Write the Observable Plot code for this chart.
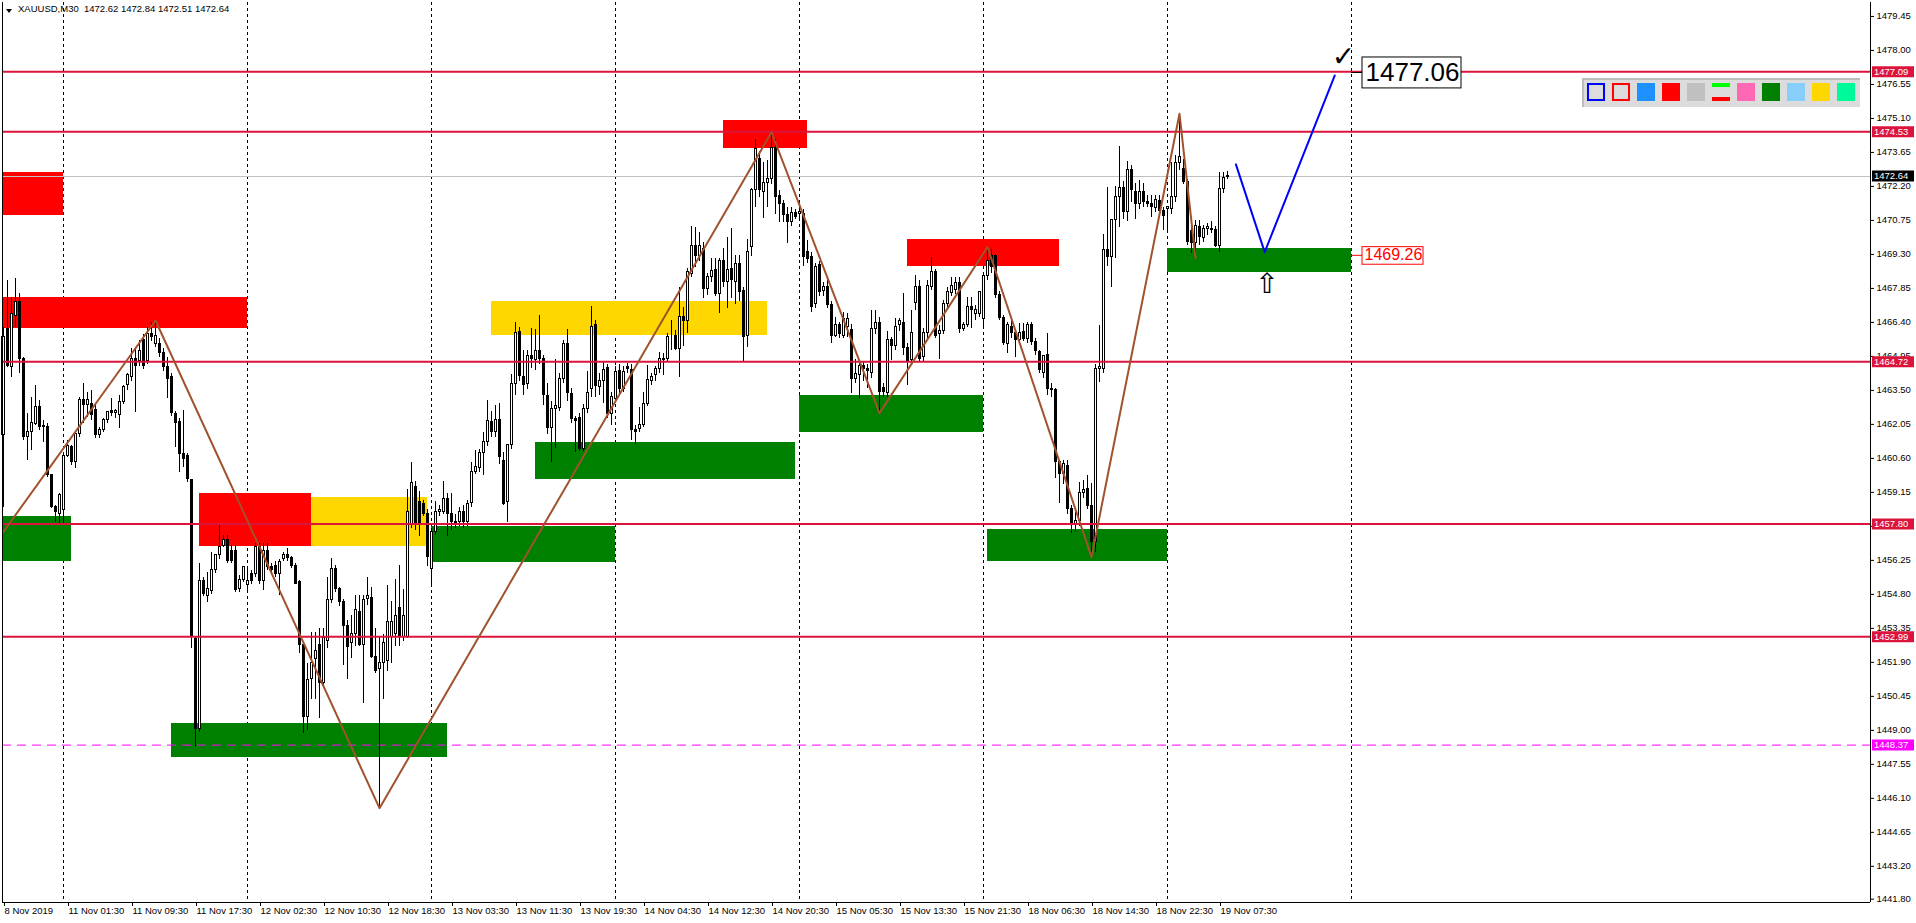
<!DOCTYPE html>
<html><head><meta charset="utf-8">
<script src="https://cdn.jsdelivr.net/npm/d3@7"></script>
<script src="https://cdn.jsdelivr.net/npm/@observablehq/plot@0.6"></script>
<style>
html,body{margin:0;padding:0;background:#fff;overflow:hidden;}
#wrap{position:relative;width:1916px;height:923px;}
#wrap svg{position:absolute;left:0;top:0;}
#hdr{position:absolute;left:18px;top:3px;font:9.5px "Liberation Sans",sans-serif;color:#000;white-space:pre;}
#tri{position:absolute;left:6px;top:9px;width:0;height:0;border-left:3px solid transparent;border-right:3px solid transparent;border-top:4px solid #000;}
#tb{position:absolute;left:1582px;top:78px;width:276px;height:27px;background:#dcdcdc;border-top:2px solid #bdbdbd;border-left:2px solid #bdbdbd;}
#tb div{position:absolute;top:3px;width:18px;height:18px;box-sizing:border-box;}
</style></head><body><div id="wrap"><div id="tb"></div></div>
<script>
// ---- candle data (XAUUSD M30), bar index 0 = 8 Nov 16:30
const openP = [1461.58,1466.13,1464.49,1466.69,1467.26,1464.85,1461.50,1461.72,1462.07,1462.78,1461.97,1461.93,1459.87,1458.52,1458.24,1458.38,1460.72,1461.08,1460.44,1461.62,1463.10,1462.86,1462.90,1462.68,1461.58,1461.82,1462.24,1462.60,1462.54,1462.43,1462.99,1463.71,1464.06,1464.82,1464.77,1465.63,1464.77,1465.91,1465.48,1465.48,1465.09,1464.49,1464.09,1462.50,1462.17,1460.79,1460.72,1459.66,1452.90,1449.06,1455.39,1454.75,1454.96,1455.82,1456.46,1456.88,1457.10,1456.67,1456.67,1455.04,1455.42,1455.22,1455.68,1455.68,1456.81,1455.39,1456.67,1455.96,1456.03,1455.68,1456.32,1456.46,1456.34,1456.03,1455.32,1452.62,1449.56,1451.18,1452.05,1452.66,1451.00,1452.83,1454.57,1455.88,1455.01,1454.49,1453.44,1452.74,1453.09,1454.05,1452.66,1454.62,1454.66,1452.13,1451.61,1451.87,1451.96,1453.00,1453.09,1454.23,1453.00,1453.00,1457.80,1459.40,1458.76,1458.67,1458.23,1455.88,1457.45,1458.32,1458.32,1458.88,1458.23,1457.88,1457.88,1458.32,1457.88,1458.71,1460.03,1460.20,1460.85,1461.28,1462.15,1461.72,1462.24,1460.50,1458.76,1461.16,1463.76,1465.99,1464.07,1463.76,1464.98,1464.80,1465.20,1464.85,1463.24,1461.89,1462.71,1462.76,1463.98,1465.47,1463.34,1462.28,1462.33,1461.02,1462.71,1463.58,1466.30,1463.64,1463.90,1464.45,1462.50,1463.14,1464.32,1463.57,1464.50,1464.38,1461.82,1461.86,1462.04,1462.90,1463.92,1464.14,1464.42,1464.85,1464.85,1465.84,1465.80,1465.27,1466.62,1466.45,1468.47,1469.68,1469.25,1469.54,1467.83,1468.33,1468.64,1467.62,1469.04,1468.12,1468.68,1468.12,1468.87,1467.72,1465.80,1469.61,1472.03,1473.38,1471.95,1472.34,1472.52,1473.85,1471.81,1471.43,1470.96,1470.67,1471.06,1471.03,1471.03,1469.40,1469.18,1467.19,1468.83,1467.73,1467.90,1467.16,1465.84,1466.27,1465.84,1466.20,1466.08,1464.00,1464.14,1464.56,1464.42,1464.25,1466.13,1466.37,1463.60,1463.38,1465.66,1465.41,1466.27,1466.37,1465.31,1464.80,1467.22,1467.90,1464.92,1465.94,1467.90,1468.54,1465.91,1466.05,1467.19,1467.65,1467.79,1468.10,1466.13,1466.31,1467.05,1466.76,1466.76,1466.55,1468.40,1469.25,1469.25,1467.55,1466.59,1465.48,1466.20,1465.94,1465.66,1465.98,1465.70,1466.31,1465.56,1465.13,1464.23,1464.99,1463.57,1463.50,1460.44,1459.94,1460.26,1458.45,1457.74,1457.95,1459.12,1459.30,1458.59,1457.03,1464.42,1464.42,1469.50,1469.18,1470.75,1471.77,1472.14,1471.10,1472.91,1471.98,1471.43,1471.98,1471.53,1471.46,1471.29,1471.57,1471.17,1471.25,1471.25,1471.74,1473.19,1472.95,1472.38,1470.29,1469.78,1470.46,1470.00,1470.39,1470.35,1470.35,1469.68,1472.10,1472.62];
const highP = [1466.20,1468.19,1467.48,1468.26,1467.62,1464.90,1462.50,1463.21,1463.71,1463.07,1462.21,1462.07,1459.90,1458.60,1459.10,1460.80,1461.36,1461.15,1461.70,1463.20,1463.78,1463.42,1463.50,1462.90,1461.90,1462.30,1462.60,1463.14,1462.70,1463.28,1463.70,1464.20,1465.27,1465.34,1465.63,1465.90,1466.20,1466.40,1466.48,1465.70,1465.30,1464.92,1464.20,1462.60,1462.30,1462.64,1460.80,1459.70,1453.00,1456.10,1455.50,1455.75,1456.60,1456.50,1457.74,1457.30,1457.31,1456.90,1456.90,1455.60,1456.00,1455.96,1455.80,1456.95,1456.95,1456.95,1456.95,1456.10,1456.20,1456.30,1456.60,1456.74,1456.40,1456.10,1455.40,1452.70,1451.84,1453.18,1453.18,1453.35,1453.35,1455.53,1456.32,1456.05,1455.10,1454.60,1453.70,1453.88,1454.75,1454.75,1454.75,1455.53,1455.10,1453.35,1453.00,1453.09,1455.18,1454.49,1455.44,1456.05,1455.01,1459.28,1460.41,1459.60,1459.19,1458.80,1458.40,1457.60,1458.76,1458.60,1459.63,1459.10,1459.10,1458.20,1458.50,1458.58,1458.80,1460.41,1460.93,1461.00,1461.72,1463.06,1462.59,1462.85,1462.94,1460.85,1461.20,1464.16,1466.39,1466.20,1465.20,1465.20,1466.16,1466.08,1466.68,1465.00,1463.81,1463.03,1464.80,1464.20,1465.64,1466.08,1463.60,1462.40,1462.50,1462.90,1464.30,1467.09,1466.50,1464.20,1464.70,1464.60,1463.40,1464.50,1464.60,1464.50,1464.64,1464.60,1462.00,1462.78,1463.43,1464.56,1464.20,1464.50,1465.13,1465.06,1465.91,1466.48,1466.05,1467.90,1467.05,1468.68,1470.49,1470.46,1470.25,1469.80,1468.50,1469.11,1469.11,1469.11,1469.54,1470.03,1470.39,1469.25,1469.25,1467.90,1469.92,1472.10,1474.19,1473.70,1473.23,1473.30,1474.51,1474.19,1472.03,1471.60,1471.32,1471.32,1471.20,1471.60,1471.20,1469.89,1469.40,1468.90,1469.00,1468.10,1468.26,1467.30,1466.62,1466.40,1466.84,1466.77,1466.30,1464.80,1464.77,1464.70,1464.60,1466.91,1466.91,1466.60,1463.80,1466.00,1465.74,1466.55,1466.55,1467.65,1465.50,1466.91,1468.40,1468.19,1466.12,1468.19,1469.18,1468.64,1466.27,1467.33,1467.90,1468.33,1468.33,1468.30,1466.40,1467.48,1467.48,1467.10,1467.73,1468.40,1469.61,1469.50,1469.30,1467.70,1466.70,1466.40,1466.48,1466.10,1466.34,1466.35,1466.40,1466.40,1465.70,1465.20,1465.00,1465.91,1463.80,1463.60,1460.50,1460.50,1460.50,1458.60,1458.30,1459.58,1459.66,1459.87,1459.51,1464.60,1466.27,1470.15,1472.17,1470.80,1472.20,1473.90,1472.40,1473.28,1473.10,1472.31,1472.45,1472.31,1471.80,1471.81,1471.81,1471.80,1471.30,1471.35,1473.23,1473.52,1475.30,1473.33,1472.50,1470.50,1470.75,1470.75,1470.53,1470.60,1470.70,1470.50,1472.81,1472.81,1472.84];
const lowP = [1458.52,1464.49,1464.06,1466.20,1464.21,1461.36,1460.51,1460.94,1462.00,1461.79,1461.29,1459.80,1458.45,1457.88,1457.81,1457.81,1460.65,1460.30,1460.15,1461.50,1462.07,1462.36,1462.20,1461.43,1461.43,1461.70,1462.10,1462.40,1462.30,1461.86,1462.90,1463.50,1463.90,1462.57,1464.50,1464.40,1464.60,1465.60,1465.34,1464.90,1464.30,1463.14,1462.40,1461.08,1460.01,1460.23,1459.59,1452.48,1448.28,1448.92,1454.70,1454.47,1454.80,1455.70,1456.30,1456.80,1456.10,1456.10,1454.90,1454.90,1455.30,1454.82,1455.20,1455.50,1455.20,1454.96,1455.80,1455.70,1455.50,1454.75,1456.20,1456.20,1455.90,1455.20,1452.26,1448.85,1449.00,1450.30,1450.30,1449.52,1450.90,1452.48,1454.40,1454.90,1454.30,1451.78,1451.18,1452.05,1452.57,1452.57,1450.13,1454.31,1452.05,1451.44,1445.68,1450.30,1451.52,1451.87,1452.57,1452.57,1452.80,1452.90,1457.60,1457.54,1457.28,1458.10,1455.97,1455.18,1457.30,1458.10,1458.20,1457.28,1457.54,1457.60,1457.70,1457.62,1457.70,1458.50,1459.90,1460.00,1459.89,1461.10,1461.50,1461.50,1460.32,1458.58,1457.88,1461.00,1463.29,1463.90,1463.29,1463.55,1464.42,1464.33,1464.60,1462.85,1461.63,1460.41,1461.02,1462.60,1463.80,1463.03,1462.10,1460.85,1460.90,1460.90,1462.50,1463.20,1463.20,1463.30,1462.94,1462.30,1462.00,1463.00,1463.30,1463.40,1464.20,1461.36,1461.19,1461.72,1461.90,1462.80,1463.70,1463.90,1464.20,1464.14,1464.70,1465.20,1465.20,1464.06,1465.37,1465.91,1468.30,1468.76,1469.00,1467.41,1467.55,1468.10,1467.50,1466.77,1467.90,1466.98,1467.40,1467.16,1467.30,1464.75,1465.31,1469.21,1471.29,1471.74,1470.82,1471.29,1472.30,1471.00,1470.67,1470.67,1469.78,1470.50,1470.80,1470.75,1468.80,1468.90,1466.84,1467.00,1467.50,1467.50,1467.00,1465.52,1465.77,1465.70,1465.70,1465.77,1463.35,1463.80,1463.14,1463.90,1463.60,1464.00,1465.90,1462.53,1463.20,1463.20,1464.77,1465.20,1466.00,1465.00,1463.71,1464.60,1466.90,1464.73,1464.70,1465.70,1467.76,1465.70,1464.80,1465.90,1467.00,1467.50,1467.60,1465.91,1466.00,1466.20,1466.12,1466.50,1466.60,1466.12,1468.20,1468.50,1467.40,1466.50,1465.41,1465.06,1465.70,1464.89,1465.50,1465.60,1465.50,1465.40,1465.00,1464.20,1464.00,1463.30,1463.20,1459.73,1458.66,1459.50,1458.20,1457.38,1457.50,1457.70,1458.90,1458.40,1456.39,1456.60,1463.85,1464.20,1468.80,1467.87,1469.11,1470.46,1470.80,1470.70,1471.50,1470.78,1471.20,1471.30,1471.30,1470.86,1471.10,1470.90,1470.32,1470.25,1471.00,1471.50,1472.90,1472.30,1469.70,1469.33,1469.20,1469.70,1469.80,1470.10,1470.20,1469.61,1469.40,1471.90,1472.51];
const closeP = [1465.77,1464.56,1466.77,1467.26,1464.85,1461.50,1461.72,1462.12,1462.78,1461.93,1461.93,1459.87,1458.52,1458.31,1459.04,1460.72,1461.11,1460.44,1461.65,1463.10,1462.86,1463.07,1462.43,1461.58,1461.82,1462.24,1462.57,1462.54,1462.60,1462.99,1463.64,1464.16,1464.82,1464.52,1465.20,1464.56,1465.91,1465.77,1465.80,1465.09,1464.49,1463.99,1462.53,1462.10,1460.79,1460.58,1459.73,1452.98,1449.06,1455.39,1454.82,1455.04,1455.82,1456.46,1456.84,1457.10,1456.24,1456.24,1454.97,1455.42,1455.96,1455.39,1455.39,1456.81,1455.39,1456.67,1455.96,1455.82,1455.68,1456.17,1456.46,1456.34,1456.03,1455.25,1452.62,1449.56,1451.13,1451.87,1452.39,1451.00,1452.92,1454.57,1455.88,1455.01,1454.49,1453.44,1452.57,1453.12,1454.14,1452.66,1454.57,1454.75,1452.13,1451.52,1451.87,1452.74,1453.61,1453.61,1453.88,1453.00,1453.88,1458.32,1459.54,1457.80,1457.80,1458.23,1456.40,1457.45,1458.32,1458.40,1458.88,1458.23,1457.88,1457.80,1458.32,1457.88,1458.67,1460.03,1460.24,1460.85,1461.28,1462.19,1461.72,1462.24,1460.67,1458.67,1461.16,1463.76,1465.95,1464.11,1463.72,1464.98,1464.85,1465.20,1464.85,1463.29,1461.89,1462.71,1462.85,1463.98,1465.47,1463.41,1462.28,1462.19,1461.02,1462.71,1463.41,1466.20,1463.69,1463.90,1464.38,1462.50,1463.21,1464.28,1463.57,1464.28,1464.40,1461.79,1461.72,1462.04,1462.93,1463.95,1464.09,1464.42,1464.85,1464.80,1465.77,1465.84,1465.27,1466.62,1466.45,1468.54,1469.68,1469.25,1469.68,1467.83,1468.33,1468.59,1467.62,1469.04,1468.12,1468.64,1468.19,1468.87,1467.69,1465.77,1469.40,1472.03,1473.80,1472.03,1472.34,1472.52,1473.85,1471.74,1471.43,1470.96,1470.67,1471.06,1470.89,1471.10,1469.21,1469.11,1467.05,1468.76,1467.69,1467.93,1467.16,1465.84,1466.27,1465.91,1466.55,1466.55,1463.99,1464.18,1464.56,1464.42,1464.32,1466.13,1466.37,1463.42,1463.42,1465.63,1465.41,1466.20,1466.48,1465.31,1464.77,1465.94,1467.90,1464.85,1465.94,1467.97,1468.54,1465.84,1466.05,1467.19,1467.69,1467.97,1468.10,1466.13,1466.31,1467.05,1466.91,1466.91,1467.69,1468.40,1469.04,1468.76,1467.55,1466.59,1465.52,1466.27,1465.94,1465.63,1465.94,1465.70,1466.31,1465.56,1465.17,1464.35,1464.95,1463.57,1463.50,1460.44,1459.94,1460.37,1458.45,1457.74,1457.95,1459.12,1459.26,1458.55,1457.03,1464.42,1464.49,1469.50,1469.18,1470.75,1471.77,1472.14,1471.10,1472.91,1472.03,1471.43,1471.98,1471.53,1471.46,1471.32,1471.60,1471.17,1470.92,1471.32,1471.74,1473.19,1473.45,1472.38,1469.82,1469.78,1470.53,1470.04,1470.39,1470.46,1470.39,1469.68,1472.10,1472.56,1472.64];

// ---- axes
const timeLabels = ["8 Nov 2019","11 Nov 01:30","11 Nov 09:30","11 Nov 17:30","12 Nov 02:30","12 Nov 10:30","12 Nov 18:30","13 Nov 03:30","13 Nov 11:30","13 Nov 19:30","14 Nov 04:30","14 Nov 12:30","14 Nov 20:30","15 Nov 05:30","15 Nov 13:30","15 Nov 21:30","18 Nov 06:30","18 Nov 14:30","18 Nov 22:30","19 Nov 07:30"];
const tickBars = [0,16,32,48,64,80,96,112,128,144,160,176,192,208,224,240,256,272,288,304];
const priceTicks = [1441.80,1443.20,1444.65,1446.10,1447.55,1449.00,1450.45,1451.90,1453.35,1454.80,1456.25,1457.70,1459.15,1460.60,1462.05,1463.50,1464.95,1466.40,1467.85,1469.30,1470.75,1472.20,1473.65,1475.10,1476.55,1478.00,1479.45];
const dayStarts = [15,61,107,153,199,245,291,337];

// ---- horizontal levels
const levelPrices = [1477.09,1474.53,1464.72,1457.80,1452.99];
const dashedLevel = [1448.37];
const bidPrice = [1472.64];
const tagPrices = [1477.09,1474.53,1472.64,1464.72,1457.80,1452.99,1448.37];
const tagColors = ["#dc143c","#dc143c","#000000","#dc143c","#dc143c","#dc143c","#ff00ff"];

// ---- zones (bar from, bar to, price low, price high)
const zoneStart = [-2,-2,-2,49,77,42,107,122,133,180,199,226,246,291];
const zoneEnd   = [15,61,17,77,106,111,153,191,198,201,245,264,291,337];
const zoneLow   = [1470.96,1466.15,1456.22,1456.86,1456.84,1447.83,1456.14,1465.83,1459.71,1473.83,1461.72,1468.80,1456.22,1468.54];
const zoneHigh  = [1472.79,1467.45,1458.12,1459.10,1458.95,1449.29,1457.71,1467.31,1461.29,1475.01,1463.28,1469.93,1457.57,1469.56];
const zoneColor = ["#ff0000","#ff0000","#008000","#ff0000","#ffd700","#008000","#008000","#ffd700","#008000","#ff0000","#008000","#ff0000","#008000","#008000"];

// ---- zigzag and projection
const zzBar = [-0.1,38,94,192,219,246,272,294,298];
const zzPrice = [1457.45,1466.48,1445.68,1474.51,1462.53,1469.61,1456.39,1475.30,1469.15];
const projBar = [308.1,315.3,332.8];
const projPrice = [1473.14,1469.40,1476.93];

// ---- annotations
const targetPrice = 1477.06, entryPrice = 1469.26;
const targetBox = {b1: 339.75, b2: 364.5, p1: 1476.38, p2: 1477.70};
const entryBox = {b1: 339.75, b2: 355, p1: 1468.86, p2: 1469.61};
const checkPos = {bar: 335, price: 1477.74};
const arrowPos = {bar: 315.9, price: 1468.03};

const bars = openP.map((o, i) => ({i, o, h: highP[i], l: lowP[i], c: closeP[i]}));
const zones = zoneStart.map((s, k) => ({s, e: zoneEnd[k], lo: zoneLow[k], hi: zoneHigh[k], color: zoneColor[k]}));
const zz = zzBar.map((b, k) => ({b, p: zzPrice[k]}));
const proj = projBar.map((b, k) => ({b, p: projPrice[k]}));
const tags = tagPrices.map((p, k) => ({p, color: tagColors[k]}));

const xMin = -0.25, xMax = 466.75;
const yMin = 1441.657, yMax = 1480.045;

const chart = Plot.plot({
  width: 1916, height: 923,
  marginTop: 2, marginRight: 46, marginBottom: 21, marginLeft: 2,
  x: {domain: [xMin, xMax]},
  y: {domain: [yMin, yMax]},
  color: {type: "identity"},
  style: {fontFamily: '"Liberation Sans", sans-serif', fontSize: "9.5px", background: "#fff", color: "#000", overflow: "visible"},
  marks: [
    Plot.ruleX(dayStarts, {stroke: "#000", strokeDasharray: "3,3", strokeWidth: 1, shapeRendering: "crispEdges"}),
    Plot.rect(zones, {x1: "s", x2: "e", y1: "lo", y2: "hi", fill: "color", clip: true, shapeRendering: "crispEdges"}),
    Plot.ruleY(bidPrice, {stroke: "#c0c0c0", strokeWidth: 1, shapeRendering: "crispEdges"}),
    Plot.ruleX(bars, {x: "i", y1: "l", y2: "h", stroke: "#000", strokeWidth: 1, shapeRendering: "crispEdges"}),
    Plot.rect(bars, {x1: d => d.i - 0.5, x2: d => d.i + 0.5, y1: "o", y2: "c", insetLeft: 1, insetRight: 1,
      fill: d => d.c >= d.o ? "#ffffff" : "#000000", stroke: "#000", strokeWidth: 1, shapeRendering: "crispEdges"}),
    Plot.ruleY(levelPrices, {stroke: "#dc143c", strokeWidth: 2}),
    Plot.ruleY(dashedLevel, {stroke: "#ff00ff", strokeWidth: 1, strokeDasharray: "9,6"}),
    Plot.line(zz, {x: "b", y: "p", stroke: "#a0522d", strokeWidth: 2, clip: true}),
    Plot.line(proj, {x: "b", y: "p", stroke: "#0000ff", strokeWidth: 2}),
    // target label
    Plot.ruleY([targetPrice], {x1: 337, x2: targetBox.b1, stroke: "#000"}),
    Plot.rect([targetBox], {x1: "b1", x2: "b2", y1: "p1", y2: "p2", fill: "#fff", stroke: "#000"}),
    Plot.text([targetPrice], {x: targetBox.b1, y: targetPrice, dx: 3, text: d => d.toFixed(2), textAnchor: "start", fontSize: 26, fill: "#000"}),
    // entry label
    Plot.ruleY([entryPrice], {x1: 337, x2: entryBox.b1, stroke: "#ff0000"}),
    Plot.rect([entryBox], {x1: "b1", x2: "b2", y1: "p1", y2: "p2", fill: "#fff", stroke: "#ff0000"}),
    Plot.text([entryPrice], {x: entryBox.b1, y: entryPrice, dx: 2, text: d => d.toFixed(2), textAnchor: "start", fontSize: 16, fill: "#ff0000"}),
    Plot.text([checkPos], {x: "bar", y: "price", text: () => "✓", fontSize: 28, fontWeight: "bold", fontFamily: "DejaVu Sans", fill: "#000"}),
    Plot.text([arrowPos], {x: "bar", y: "price", text: () => "⇧", fontSize: 28, fontFamily: "DejaVu Sans", fill: "#000"}),
    // frame
    Plot.ruleX([xMin], {stroke: "#000", shapeRendering: "crispEdges"}),
    Plot.ruleX([xMax], {stroke: "#000", shapeRendering: "crispEdges"}),
    Plot.ruleY([yMin], {stroke: "#000", shapeRendering: "crispEdges"}),
    // axes
    Plot.axisY(priceTicks, {anchor: "right", tickSize: 3, tickPadding: 3, tickFormat: d => d.toFixed(2), label: null, fill: "#000"}),
    Plot.axisX(tickBars, {anchor: "bottom", tickSize: 4, tickPadding: 1, tickFormat: d => timeLabels[tickBars.indexOf(d)], textAnchor: "start", dx: 1, label: null, fill: "#000"}),
    // price tags on the axis
    Plot.ruleY(tags, {y: "p", x1: xMax + 0.5, x2: xMax + 11, stroke: "color", strokeWidth: 11}),
    Plot.text(tags, {x: xMax + 0.5, y: "p", dx: 1.5, text: d => d.p.toFixed(2), textAnchor: "start", fill: "#fff"})
  ]
});
const wrap = document.getElementById("wrap");
wrap.insertBefore(chart, wrap.firstChild);

const hdr = document.createElement("div");
hdr.id = "hdr";
hdr.textContent = "XAUUSD,M30  1472.62 1472.84 1472.51 1472.64";
wrap.appendChild(hdr);
const tri = document.createElement("div");
tri.id = "tri";
wrap.appendChild(tri);

// toolbar swatches
const swatches = [
  {b: "2px solid #0000ff", bg: "#dcdcdc"}, {b: "2px solid #ff0000", bg: "#dcdcdc"},
  {bg: "#1e90ff"}, {bg: "#ff0000"}, {bg: "#c0c0c0"}, {lines: true}, {bg: "#ff69b4"},
  {bg: "#008000"}, {bg: "#87cefa"}, {bg: "#ffd700"}, {bg: "#00fa9a"}];
const tb = document.getElementById("tb");
swatches.forEach((s, k) => {
  const d = document.createElement("div");
  d.style.left = (3 + 25 * k) + "px";
  if (s.lines) {
    d.style.background = "linear-gradient(#00ff00 0 4px, transparent 4px 14px, #ff0000 14px 18px)";
  } else {
    d.style.background = s.bg;
    if (s.b) d.style.border = s.b;
  }
  tb.appendChild(d);
});
</script>
</body></html>
